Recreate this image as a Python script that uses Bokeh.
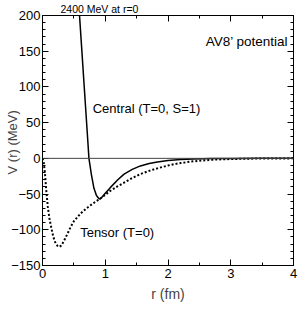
import math
from bokeh.plotting import figure
from bokeh.models import Range1d, LinearAxis, SingleIntervalTicker, Span, Label
from bokeh.embed import file_html
from bokeh.resources import INLINE

# Central potential (T=0, S=1), r in fm, V in MeV
central_r = [0.0, 0.1, 0.2, 0.3, 0.4, 0.5, 0.55, 0.59, 0.63, 0.66, 0.69, 0.72,
             0.74, 0.78, 0.82, 0.86, 0.9, 0.92, 0.96, 1.0, 1.08, 1.2, 1.3, 1.43,
             1.56, 1.7, 1.83, 2.0, 2.2, 2.4, 2.7, 3.0, 3.5, 4.0]
central_v = [2400, 2050, 1650, 1200, 780, 420, 290, 200, 147, 107, 67, 27,
             0, -23, -42, -52, -56.5, -57, -53, -49, -41, -30, -22, -15.5,
             -10.6, -7.2, -5, -3, -1.6, -0.8, -0.3, -0.1, 0, 0]

# Tensor potential (T=0)
tensor_r = [0.0, 0.02, 0.04, 0.06, 0.085, 0.11, 0.14, 0.17, 0.2, 0.24, 0.27,
            0.3, 0.34, 0.39, 0.45, 0.5, 0.56, 0.61, 0.7, 0.76, 0.84, 0.91, 1.0,
            1.08, 1.2, 1.3, 1.43, 1.56, 1.7, 1.83, 2.0, 2.09, 2.2, 2.36, 2.5,
            2.73, 3.0, 3.3, 3.6, 4.0]
tensor_v = [0, -6, -22, -45, -68, -84, -97, -109, -117, -122.5, -124,
            -122, -116, -107, -96, -88, -82, -77, -70, -66, -61, -57, -51,
            -45.5, -39, -34, -27.5, -22, -17.5, -14, -10, -8.3, -6.6, -4.6, -3.3,
            -1.8, -0.9, -0.4, -0.15, 0]

x_ticks = [0, 1, 2, 3, 4]
y_ticks = [-150, -100, -50, 0, 50, 100, 150, 200]
y_tick_labels = ["\u2212150", "\u2212100", "\u221250", "0", "50", "100", "150", "200"]

FONT = "Liberation Sans"

p = figure(width=300, height=311, output_backend="svg", toolbar_location=None,
           x_range=Range1d(0, 4), y_range=Range1d(-150, 200),
           min_border_left=42, min_border_right=7, min_border_top=14,
           min_border_bottom=46, x_axis_location=None, y_axis_location=None,
           title="2400 MeV at r=0")
p.grid.visible = False
p.outline_line_color = "black"
p.outline_line_width = 1
p.background_fill_color = "white"
p.border_fill_color = "white"

p.title.text_font = FONT
p.title.text_font_size = "10.5px"
p.title.text_font_style = "normal"
p.title.text_color = "black"
p.title.align = "left"
p.title.offset = 18
p.title.standoff = 1


def make_axis(interval, minor, labels=True):
    ax = LinearAxis(ticker=SingleIntervalTicker(interval=interval,
                                                num_minor_ticks=minor))
    ax.major_tick_in = 6
    ax.major_tick_out = 0
    ax.minor_tick_in = 3
    ax.minor_tick_out = 0
    ax.axis_line_color = "black"
    ax.major_tick_line_color = "black"
    ax.minor_tick_line_color = "black"
    ax.major_label_text_font = FONT
    ax.major_label_text_color = "black"
    ax.major_label_text_font_size = "13px"
    ax.major_label_standoff = 3 if labels else 0
    return ax


xb = make_axis(1, 2)
xb.axis_label = "r (fm)"
xb.axis_label_text_font = FONT
xb.axis_label_text_font_size = "14px"
xb.axis_label_text_font_style = "normal"
xb.axis_label_standoff = 5
p.add_layout(xb, "below")

yl = make_axis(50, 5)
yl.major_label_overrides = {t: s for t, s in zip(y_ticks, y_tick_labels)}
yl.major_label_standoff = 2
yl.axis_label = "V (r)  (MeV)"
yl.axis_label_text_font = FONT
yl.axis_label_text_font_size = "13px"
yl.axis_label_text_font_style = "normal"
yl.axis_label_standoff = -12
p.add_layout(yl, "left")

xt = make_axis(1, 2, labels=False)
xt.major_label_overrides = {t: "" for t in x_ticks}
p.add_layout(xt, "above")
yr = make_axis(50, 5, labels=False)
yr.major_label_overrides = {t: "" for t in y_ticks}
p.add_layout(yr, "right")

p.add_layout(Span(location=0, dimension="width", line_color="#444444",
                  line_width=1))

p.line(central_r, central_v, line_color="black", line_width=1.5)
p.line(tensor_r, tensor_v, line_color="black", line_width=2, line_dash="2 2")


def lab(x, y, text, size, **kw):
    p.add_layout(Label(x=x, y=y, text=text, text_font=FONT,
                       text_font_size=size, text_color="black", **kw))


lab(2.6, 164, "AV8\u2019 potential", "13.5px", text_baseline="middle")
lab(0.8, 70, "Central (T=0, S=1)", "13px", text_baseline="middle")
lab(0.6, -104, "Tensor (T=0)", "13px", text_baseline="middle")

open("out.html", "w").write(file_html(p, INLINE))
